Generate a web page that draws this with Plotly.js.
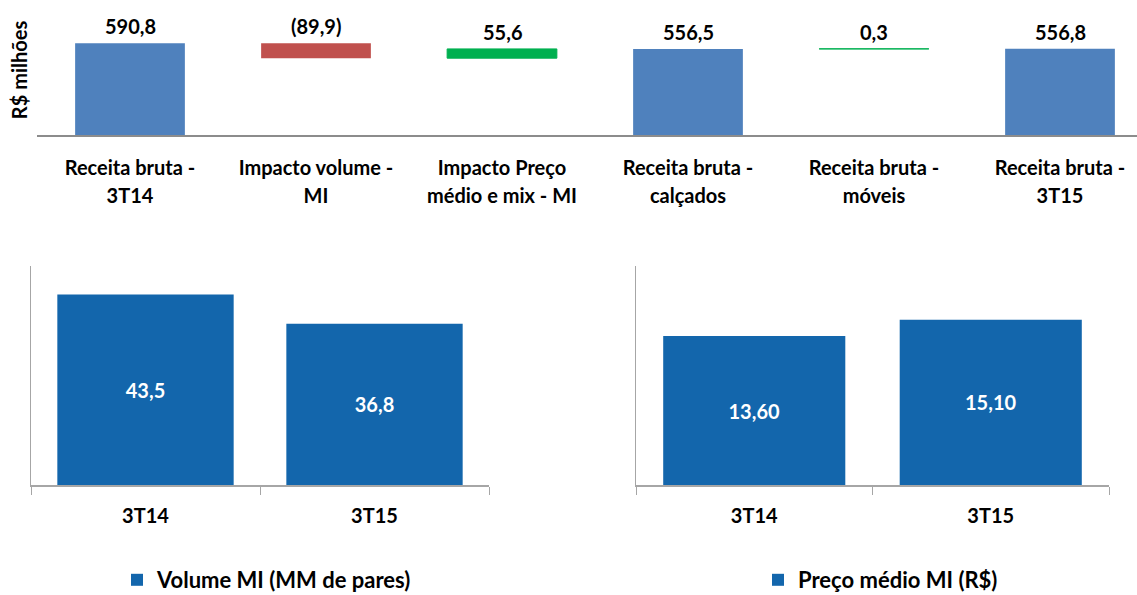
<!DOCTYPE html>
<html>
<head>
<meta charset="utf-8">
<script src="https://cdn.plot.ly/plotly-3.0.1.min.js"></script>
<style>html,body{margin:0;padding:0;background:#fff;}#chart{width:1137px;height:595px;}</style>
</head>
<body>
<div id="chart"></div>
<script>
// ---- Data ----
const wfLabelLine1 = ["Receita bruta -", "Impacto volume -", "Impacto Preço", "Receita bruta -", "Receita bruta -", "Receita bruta -"];
const wfLabelLine2 = ["3T14", "MI", "médio e mix - MI", "calçados", "móveis", "3T15"];
const wfMeasures = ["absolute", "relative", "relative", "total", "relative", "total"];
const wfValues = [590.8, -89.9, 55.6, 0, 0.3, 0];

const periodCategories = ["3T14", "3T15"];
const volumeValues = [43.5, 36.8];
const priceValues = [13.60, 15.10];

const volumeName = "Volume MI (MM de pares)";
const priceName = "Preço médio MI (R$)";

// ---- Helpers ----
function fmt(v, d) {
  const s = Math.abs(v).toFixed(d).replace(".", ",");
  return v < 0 ? "(" + s + ")" : s;
}

const FONT = "Lato, 'Open Sans', sans-serif";
const W = 1137, H = 595;
const wfIdx = wfValues.map((_, i) => i);

// running totals for waterfall labels
const wfAnn = [];
let run = 0;
wfValues.forEach((v, i) => {
  const m = wfMeasures[i];
  let top, val;
  if (m === "absolute") { run = v; top = v; val = v; }
  else if (m === "total") { top = run; val = run; }
  else { const prev = run; run = prev + v; top = Math.max(prev, run); val = v; }
  wfAnn.push({
    x: i, y: top, xref: "x", yref: "y", text: fmt(val, 1), showarrow: false,
    yanchor: "bottom", yshift: 3,
    font: {family: FONT, size: 20, color: "#000", weight: "bold"}
  });
});

const traces = [
  {
    type: "waterfall", x: wfIdx, y: wfValues, measure: wfMeasures,
    xaxis: "x", yaxis: "y", width: 0.59, showlegend: false,
    textposition: "none", hoverinfo: "skip",
    connector: {visible: false},
    totals: {marker: {color: "#4F81BD", line: {width: 0}}},
    increasing: {marker: {color: "#00B050", line: {color: "#00B050", width: 1}}},
    decreasing: {marker: {color: "#C0504D", line: {width: 0}}}
  },
  {
    type: "bar", x: periodCategories, y: volumeValues, name: volumeName,
    xaxis: "x2", yaxis: "y2", legend: "legend",
    marker: {color: "#1366AC"},
    text: volumeValues.map(v => fmt(v, 1)), textposition: "inside",
    insidetextanchor: "middle", textangle: 0,
    textfont: {family: FONT, size: 20, color: "#fff", weight: "bold"},
    hoverinfo: "skip"
  },
  {
    type: "bar", x: periodCategories, y: priceValues, name: priceName,
    xaxis: "x3", yaxis: "y3", legend: "legend2",
    marker: {color: "#1366AC"},
    text: priceValues.map(v => fmt(v, 2)), textposition: "inside",
    insidetextanchor: "middle", textangle: 0,
    textfont: {family: FONT, size: 20, color: "#fff", weight: "bold"},
    hoverinfo: "skip"
  },
  {
    // invisible trace so the overlay axis carrying the second label line is drawn
    type: "scatter", x: wfIdx, y: wfIdx.map(() => null), xaxis: "x4", yaxis: "y",
    mode: "markers", showlegend: false, hoverinfo: "skip"
  }
];

const tickFont = {family: FONT, size: 20, color: "#000", weight: "bold"};
const bottomY = [(H - 485) / H, (H - 266) / H];
const topX = [37 / W, 1];
const topRange = [-0.5, 5.414];

const layout = {
  width: W, height: H,
  margin: {l: 0, r: 0, t: 0, b: 0, autoexpand: false},
  paper_bgcolor: "#fff", plot_bgcolor: "rgba(0,0,0,0)",
  font: {family: FONT},
  bargap: 0.23,
  xaxis: {
    domain: topX, range: topRange, anchor: "y",
    tickmode: "array", tickvals: wfIdx, ticktext: wfLabelLine1,
    tickfont: tickFont, ticks: "", showgrid: false, zeroline: false,
    showline: true, linecolor: "#8C8C8C", linewidth: 2,
    ticklabelstandoff: 14, fixedrange: true
  },
  xaxis4: {
    domain: topX, range: topRange, anchor: "y", overlaying: "x", side: "bottom",
    tickmode: "array", tickvals: wfIdx, ticktext: wfLabelLine2,
    tickfont: tickFont, ticks: "", showgrid: false, zeroline: false,
    showline: false, ticklabelstandoff: 47, fixedrange: true
  },
  yaxis: {
    domain: [(H - 135) / H, (H - 5) / H], range: [40, 820], anchor: "x",
    showgrid: false, zeroline: false, showline: false, showticklabels: false, ticks: "",
    title: {text: "R$ milhões", font: {family: FONT, size: 20, color: "#000", weight: "bold"}, standoff: 3},
    fixedrange: true
  },
  xaxis2: {
    domain: [31 / W, 489 / W], type: "category", anchor: "y2",
    tickfont: tickFont, ticks: "outside", ticklen: 8, tickcolor: "#A6A6A6", tickson: "boundaries",
    showgrid: false, zeroline: false, showline: true, linecolor: "#A6A6A6", linewidth: 2,
    ticklabelstandoff: 12, fixedrange: true
  },
  yaxis2: {
    domain: bottomY, range: [0, 50], anchor: "x2",
    showgrid: false, zeroline: false, showline: true, linecolor: "#A6A6A6", linewidth: 1,
    showticklabels: false, ticks: "", fixedrange: true
  },
  xaxis3: {
    domain: [636 / W, 1109 / W], type: "category", anchor: "y3",
    tickfont: tickFont, ticks: "outside", ticklen: 8, tickcolor: "#A6A6A6", tickson: "boundaries",
    showgrid: false, zeroline: false, showline: true, linecolor: "#A6A6A6", linewidth: 2,
    ticklabelstandoff: 12, fixedrange: true
  },
  yaxis3: {
    domain: bottomY, range: [0, 20], anchor: "x3",
    showgrid: false, zeroline: false, showline: true, linecolor: "#A6A6A6", linewidth: 1,
    showticklabels: false, ticks: "", fixedrange: true
  },
  legend: {
    x: 117 / W, y: -6 / H, xanchor: "left", yanchor: "bottom",
    orientation: "h", font: {family: FONT, size: 22, color: "#000", weight: "bold"},
    bgcolor: "rgba(0,0,0,0)", borderwidth: 0
  },
  legend2: {
    x: 758 / W, y: -6 / H, xanchor: "left", yanchor: "bottom",
    orientation: "h", font: {family: FONT, size: 22, color: "#000", weight: "bold"},
    bgcolor: "rgba(0,0,0,0)", borderwidth: 0
  },
  annotations: wfAnn
};

Plotly.newPlot("chart", traces, layout, {staticPlot: true, displayModeBar: false});
</script>
</body>
</html>
